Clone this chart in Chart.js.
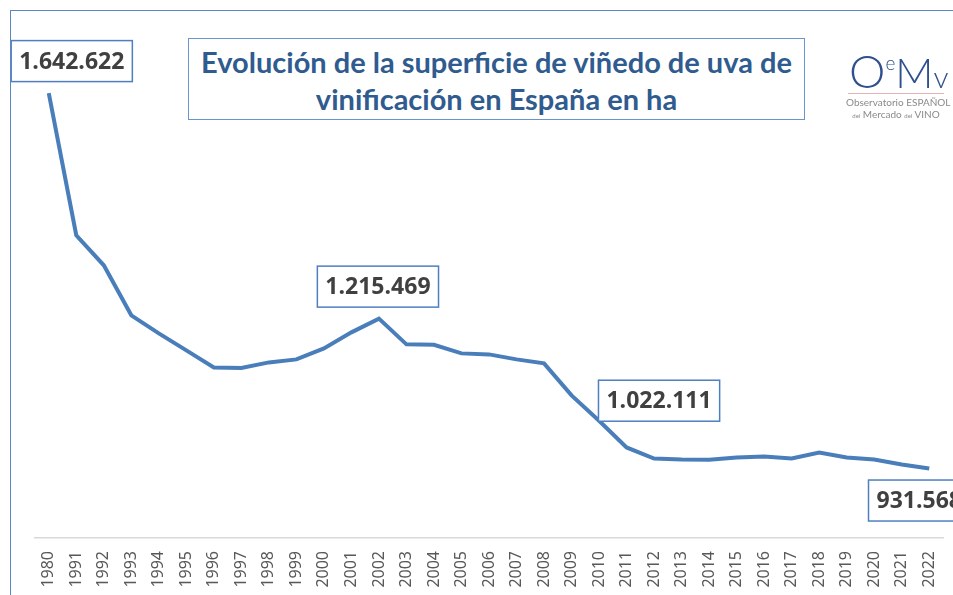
<!DOCTYPE html>
<html>
<head>
<meta charset="utf-8">
<script src="https://cdn.jsdelivr.net/npm/chart.js@4.4.1/dist/chart.umd.min.js"></script>
<style>
  body { margin: 0; background: #fff; }
  #wrap { position: relative; width: 953px; height: 595px; overflow: hidden; }
  #chart { position: absolute; left: 0; top: 0; }
  #frame { position: absolute; left: 10px; top: 10px; width: 1000px; height: 700px;
           border-left: 1.5px solid #5b87c5; border-top: 1.5px solid #5b87c5; pointer-events: none; }
  #title { position: absolute; left: 188px; top: 38px; width: 617px; height: 82px; box-sizing: border-box;
           border: 1.5px solid #6a93cf; padding-top: 4px; text-align: center;
           font-family: Lato, "Open Sans", sans-serif; font-weight: bold; font-size: 29px; line-height: 37px;
           color: #2f5b8f; background: #fff; white-space: nowrap; }
  #logo { position: absolute; left: 846px; top: 38px; width: 100px; height: 90px;
          font-family: Lato, "Open Sans", sans-serif; color: #2f4f8f; }
  #logo .mark { position: absolute; left: 3px; top: 0; white-space: nowrap; font-weight: 300; line-height: 50px; }
  #logo .rule { position: absolute; left: 2px; top: 55px; width: 96px; height: 1px; background: #e3b4b4; }
  #logo .l1, #logo .l2 { position: absolute; left: 0; width: 100px; text-align: center; color: #8a8a8a;
                          font-size: 10px; white-space: nowrap; }
  #logo .l1 { top: 58px; }
  #logo .l2 { top: 70px; }
  #logo .l2 small { font-size: 6px; }
</style>
</head>
<body>
<div id="wrap">
  <canvas id="chart" width="953" height="595"></canvas>
  <div id="frame"></div>
  <div id="title">Evolución de la superficie de viñedo de uva de<br>vinificación en España en ha</div>
  <div id="logo">
    <div class="mark"><span style="font-size:46px">O</span><span style="font-size:19px;vertical-align:18px">e</span><span style="font-size:42px">M</span><span style="font-size:30px">v</span></div>
    <div class="rule"></div>
    <div class="l1">Observatorio ESPAÑOL</div>
    <div class="l2"><small>del</small> Mercado <small>del</small> VINO</div>
  </div>
</div>
<script>
// años (1980 y después serie anual 1991-2022)
const years = ["1980", "1991", "1992", "1993", "1994", "1995", "1996", "1997", "1998", "1999",
  "2000", "2001", "2002", "2003", "2004", "2005", "2006", "2007", "2008", "2009",
  "2010", "2011", "2012", "2013", "2014", "2015", "2016", "2017", "2018", "2019",
  "2020", "2021", "2022"];

// superficie de viñedo de uva de vinificación (ha)
const hectares = [1642622, 1373390, 1316510, 1221710, 1187582, 1155350, 1123118, 1122170, 1132598, 1138286,
  1159142, 1189478, 1215469, 1166726, 1165800, 1149662, 1147766, 1138286, 1130702, 1070030,
  1022111, 971438, 950582, 948686, 948000, 952478, 954374, 950582, 961958, 952478,
  948686, 939206, 931568];

// años con etiqueta de valor
const labelledYears = ["1980", "2002", "2010", "2022"];

const fmt = (v) => String(v).replace(/\B(?=(\d{3})+(?!\d))/g, ".");

// desplazamiento de cada caja respecto a su punto
const boxOffsets = {
  "1980": [23, -32],
  "2002": [-1, -32],
  "2010": [60, -20],
  "2022": [-10, 32]
};

const valueBoxes = {
  id: "valueBoxes",
  afterDatasetsDraw(chart) {
    const ctx = chart.ctx;
    const x = chart.scales.x;
    const y = chart.scales.y;
    ctx.save();
    ctx.font = "bold 23px 'Open Sans', 'Noto Sans', sans-serif";
    ctx.textAlign = "center";
    ctx.textBaseline = "middle";
    labelledYears.forEach(yr => {
      const i = years.indexOf(yr);
      const text = fmt(hectares[i]);
      const off = boxOffsets[yr];
      const cx = x.getPixelForValue(i) + off[0];
      const cy = y.getPixelForValue(hectares[i]) + off[1];
      const w = ctx.measureText(text).width + 16;
      const h = 41;
      ctx.fillStyle = "#fff";
      ctx.fillRect(cx - w / 2, cy - h / 2, w, h);
      ctx.lineWidth = 1.5;
      ctx.strokeStyle = "#4f7fc0";
      ctx.strokeRect(cx - w / 2, cy - h / 2, w, h);
      ctx.fillStyle = "#404040";
      ctx.fillText(text, cx, cy + 1);
    });
    ctx.restore();
  }
};

new Chart(document.getElementById("chart"), {
  type: "line",
  data: {
    labels: years,
    datasets: [{
      data: hectares,
      borderColor: "#4a7ebb",
      borderWidth: 4,
      pointRadius: 0,
      tension: 0,
      fill: false
    }]
  },
  options: {
    responsive: false,
    animation: false,
    layout: { padding: { left: 35, right: 10, top: 10, bottom: 0 } },
    plugins: {
      legend: { display: false },
      tooltip: { enabled: false }
    },
    scales: {
      x: {
        offset: true,
        grid: { display: false, drawTicks: false },
        border: { display: true, color: "#d9d9d9", width: 1.5 },
        ticks: {
          autoSkip: false,
          minRotation: 90,
          maxRotation: 90,
          padding: 13,
          color: "#595959",
          font: { family: "'Noto Sans', sans-serif", size: 16 }
        },
        afterFit: (axis) => {
          axis.height = 57;
          axis.paddingLeft = 0;
          axis.paddingRight = 0;
        }
      },
      y: {
        display: false,
        min: 800000,
        max: 1800000
      }
    }
  },
  plugins: [valueBoxes]
});
</script>
</body>
</html>
